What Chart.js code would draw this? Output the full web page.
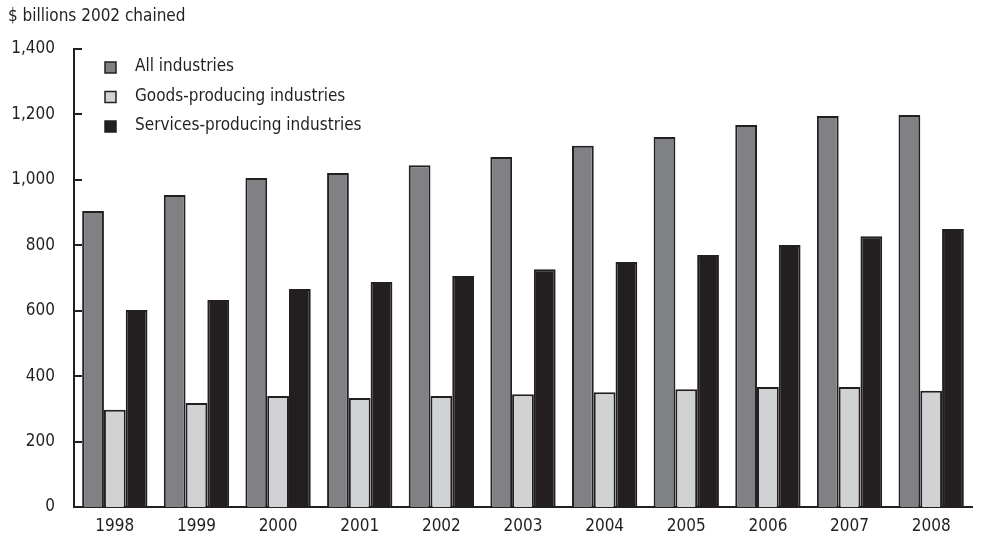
<!DOCTYPE html>
<html>
<head>
<meta charset="utf-8">
<script src="https://cdn.jsdelivr.net/npm/chart.js@4.4.1/dist/chart.umd.min.js"></script>
<style>
  html, body { margin: 0; padding: 0; background: #fff; }
  #wrap { position: relative; width: 985px; height: 539px; }
</style>
</head>
<body>
<div id="wrap"><canvas id="chart"></canvas></div>
<script>
const years = ['1998', '1999', '2000', '2001', '2002', '2003', '2004', '2005', '2006', '2007', '2008'];
const allIndustries = [905, 954, 1006, 1021, 1045, 1070, 1104, 1131, 1168, 1195, 1198];
const goodsProducing = [297, 318, 339, 333, 339, 345, 351, 360, 367, 367, 355];
const servicesProducing = [602, 633, 666, 688, 706, 727, 749, 770, 801, 828, 850];
const yTicks = [0, 200, 400, 600, 800, 1000, 1200, 1400];

const FONT = '"Liberation Sans Narrow", "DejaVu Sans Condensed", "Roboto Condensed", sans-serif';
const INK = '#231f20';

// title, inside legend and inward tick marks
const extras = {
  id: 'extras',
  afterDraw(chart) {
    const ctx = chart.ctx;
    const y = chart.scales.y;
    ctx.save();
    ctx.fillStyle = INK;
    ctx.font = '17px ' + FONT;
    ctx.textBaseline = 'middle';
    ctx.textAlign = 'left';
    ctx.fillText('$ billions 2002 chained', 8, 17);

    // tick marks point into the plot
    ctx.strokeStyle = INK;
    ctx.lineWidth = 2;
    yTicks.forEach(v => {
      const py = Math.round(y.getPixelForValue(v));
      ctx.beginPath();
      ctx.moveTo(chart.chartArea.left, py);
      ctx.lineTo(chart.chartArea.left + 8, py);
      ctx.stroke();
    });

    // legend
    chart.data.datasets.forEach((ds, i) => {
      const ly = 67 + i * 29.5;
      ctx.fillStyle = ds.backgroundColor;
      ctx.fillRect(105, ly - 5, 11, 11);
      ctx.strokeStyle = INK;
      ctx.lineWidth = 1.5;
      ctx.strokeRect(105, ly - 5, 11, 11);
      ctx.fillStyle = INK;
      ctx.fillText(ds.label, 135, ly);
    });
    ctx.restore();
  }
};

new Chart(document.getElementById('chart'), {
  type: 'bar',
  data: {
    labels: years,
    datasets: [
      { label: 'All industries', data: allIndustries, backgroundColor: '#808184' },
      { label: 'Goods-producing industries', data: goodsProducing, backgroundColor: '#d1d2d4' },
      { label: 'Services-producing industries', data: servicesProducing, backgroundColor: INK }
    ].map(d => Object.assign(d, {
      borderColor: INK,
      borderWidth: 2,
      categoryPercentage: 0.8,
      barPercentage: 1.0
    }))
  },
  options: {
    responsive: true,
    maintainAspectRatio: false,
    animation: false,
    devicePixelRatio: 1,
    layout: { padding: { top: 49, right: 13, bottom: 0, left: 0 } },
    plugins: {
      legend: { display: false },
      title: { display: false },
      tooltip: { enabled: false }
    },
    scales: {
      y: {
        min: 0,
        max: 1400,
        afterFit: s => { s.width = 74; },
        afterBuildTicks: s => { s.ticks = yTicks.map(v => ({ value: v })); },
        border: { display: true, color: INK, width: 2 },
        grid: { display: false, drawTicks: false },
        ticks: {
          padding: 19,
          color: INK,
          font: { family: FONT, size: 17 },
          callback: v => v.toLocaleString('en-US')
        }
      },
      x: {
        afterFit: s => { s.height = 32; },
        border: { display: true, color: INK, width: 2 },
        grid: { display: false, drawTicks: false },
        ticks: {
          padding: 9,
          color: INK,
          font: { family: FONT, size: 17 }
        }
      }
    }
  },
  plugins: [extras]
});
</script>
</body>
</html>
